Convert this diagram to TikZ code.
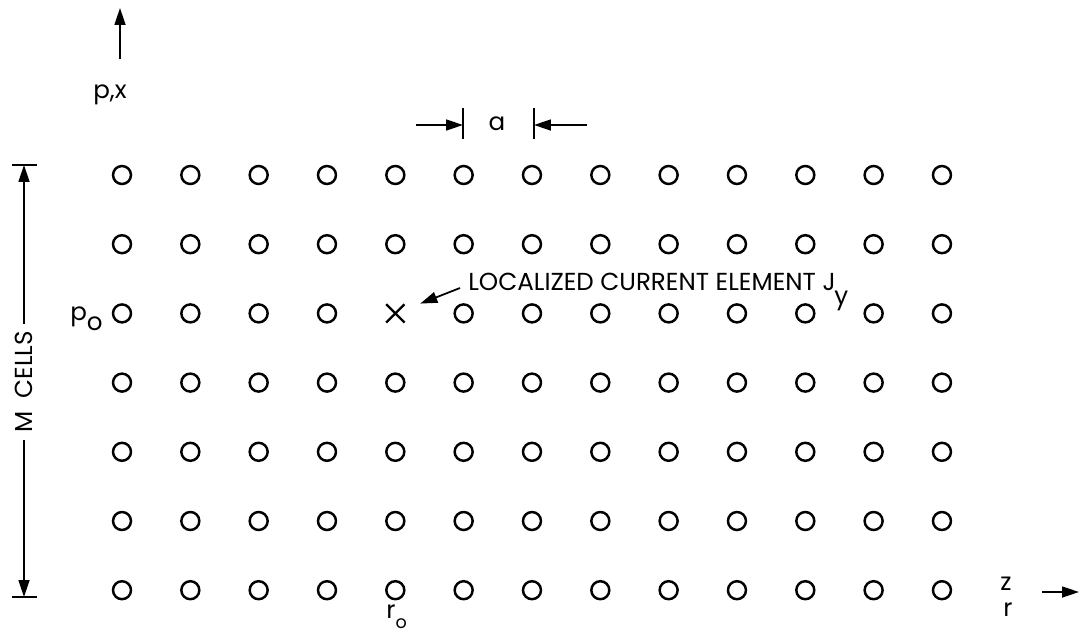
\documentclass[tikz,border=0pt]{standalone}
\usepackage{fontspec}
\setmainfont{Poppins}
\usetikzlibrary{arrows.meta}
\usetikzlibrary{shapes.misc}

\begin{document}
\begin{tikzpicture}[
  x=0.02cm, y=-0.02cm,
  line/.style = {line width=1pt},
  cell/.style = {circle,draw,line width=1.4pt,minimum size=0.36cm,inner sep=0pt},
  lbl/.style = {inner sep=0pt,font=\fontsize{14}{16}\selectfont},
  >={Triangle[length=3.4mm,width=2.2mm]}
]
  \useasboundingbox (0,0) rectangle (1080,636);

  % grid of cells, the source sits at (4,2)
  \foreach \i in {0,...,12}{
    \foreach \j in {0,...,6}{
      \pgfmathtruncatemacro\issrc{(\i==4)&&(\j==2)}
      \ifnum\issrc=0
        \node[cell] (c-\i-\j) at ({122+68.33*\i},{175+69.2*\j}) {};
      \fi
    }
  }
  \node[cross out,draw,line width=1.3pt,minimum size=0.32cm,inner sep=0pt]
    (cross) at ({122+68.33*4},{175+69.2*2}) {};

  % axes
  \coordinate (pbot) at (120,59);
  \coordinate (ptop) at (120,8);
  \draw[line,->] (pbot) -- (ptop);
  \node[lbl] (px) at (110,95) {p,x};

  \coordinate (zbeg) at (1042,592);
  \coordinate (zend) at (1079,592);
  \draw[line,->] (zbeg) -- (zend);
  \node[lbl] (zlab) at (1006,584) {z};
  \node[lbl] (rlab) at (1008,610) {r};

  \node[lbl,anchor=base west] (po) at (70,320) {p\raisebox{-0.8ex}{o}};
  \node[lbl,anchor=base west] (ro) at (386,618)
    {r\raisebox{-6pt}{\fontsize{10}{12}\selectfont o}};

  % cell size a
  \coordinate (aleft) at (463,125);
  \coordinate (aright) at (534,125);
  \coordinate (afromleft) at (416,125);
  \coordinate (afromright) at (587,125);
  \draw[line] ([yshift=0.34cm]aleft) -- ([yshift=-0.28cm]aleft);
  \draw[line] ([yshift=0.34cm]aright) -- ([yshift=-0.28cm]aright);
  \draw[line,->] (afromleft) -- (aleft);
  \draw[line,->] (afromright) -- (aright);
  \node[lbl] (alab) at (497,124) {a};

  % M cells
  \coordinate (mtop) at (24,165);
  \coordinate (mbot) at (24,597);
  \draw[line] ([xshift=-0.24cm]mtop) -- ([xshift=0.26cm]mtop);
  \draw[line] ([xshift=-0.24cm]mbot) -- ([xshift=0.26cm]mbot);
  \node[lbl,rotate=90,inner xsep=4pt] (mcells) at (24,382) {M\ \ CELLS};
  \draw[line,->] (mcells.east) -- (mtop);
  \draw[line,->] (mcells.west) -- (mbot);

  % source
  \node[lbl,anchor=base west] (loc) at (468,290)
    {LOCALIZED CURRENT ELEMENT J\kern-0.05em\raisebox{-1.1ex}{y}};
  \draw[line,->,shorten >=3.4mm] ([xshift=-0.16cm,yshift=0.04cm]loc.base west) -- (cross);

\end{tikzpicture}
\end{document}
